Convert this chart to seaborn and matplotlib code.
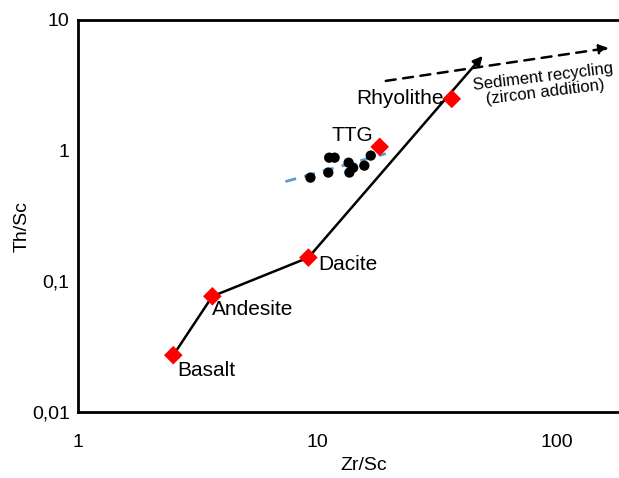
import matplotlib
matplotlib.use("Agg")
import matplotlib.pyplot as plt
import matplotlib.ticker as mticker
import seaborn as sns

# --- data ---
rock_names = ["Basalt", "Andesite", "Dacite", "Rhyolithe", ""]
rock_zr_sc = [2.50, 3.64, 9.17, 36.4, 18.2]
rock_th_sc = [0.0272, 0.0768, 0.152, 2.49, 1.07]

trend_zr_sc = [2.50, 3.64, 9.17]
trend_th_sc = [0.0272, 0.0768, 0.152]
trend_arrow_start = (9.17, 0.152)
trend_arrow_end = (49.0, 5.31)

ttg_zr_sc = [9.35, 11.1, 11.2, 11.8, 13.5, 13.6, 14.1, 15.7, 16.7]
ttg_th_sc = [0.622, 0.680, 0.884, 0.884, 0.809, 0.680, 0.741, 0.768, 0.917]

ttg_fit_zr_sc = [7.35, 19.3]
ttg_fit_th_sc = [0.580, 0.949]

sed_arrow_start = (19.3, 3.42)
sed_arrow_end = (165.0, 6.11)

x_ticks = [1, 10, 100]
x_tick_labels = ["1", "10", "100"]
y_ticks = [0.01, 0.1, 1, 10]
y_tick_labels = ["0,01", "0,1", "1", "10"]

# --- style ---
sns.set_style("white")
plt.rcParams["font.family"] = ["Liberation Sans", "DejaVu Sans"]
plt.rcParams["text.color"] = "black"
plt.rcParams["axes.labelcolor"] = "black"
plt.rcParams["xtick.color"] = "black"
plt.rcParams["ytick.color"] = "black"

fig = plt.figure(figsize=(6.19, 4.78), dpi=100)
ax = fig.add_axes([78 / 619, 1 - 412 / 478, 1 - 78 / 619 + 0.002, (412 - 20) / 478])

ax.set_xscale("log")
ax.set_yscale("log")
ax.set_xlim(1, 184)
ax.set_ylim(0.01, 10)

# trend line
sns.lineplot(x=trend_zr_sc, y=trend_th_sc, ax=ax, color="black", lw=1.8,
             sort=False, estimator=None, zorder=2)
ax.annotate("", xy=trend_arrow_end, xytext=trend_arrow_start,
            arrowprops=dict(arrowstyle="-|>", color="black", lw=1.8,
                            mutation_scale=14, shrinkA=0, shrinkB=0), zorder=2)

# TTG fit (dashed blue)
sns.lineplot(x=ttg_fit_zr_sc, y=ttg_fit_th_sc, ax=ax, color="#5b9bd5", lw=2,
             linestyle=(0, (4, 3)), estimator=None, zorder=3)

# TTG points
sns.scatterplot(x=ttg_zr_sc, y=ttg_th_sc, ax=ax, color="black", s=55,
                edgecolor="none", zorder=4)

# rock diamonds
sns.scatterplot(x=rock_zr_sc, y=rock_th_sc, ax=ax, color="#ff0000", marker="D",
                s=90, edgecolor="none", zorder=5)

# sediment recycling arrow
ax.annotate("", xy=sed_arrow_end, xytext=sed_arrow_start,
            arrowprops=dict(arrowstyle="-|>", color="black", lw=1.8,
                            linestyle=(0, (4, 3)), mutation_scale=14,
                            shrinkA=0, shrinkB=0), zorder=2)

# labels
fs = 15
ax.annotate("Basalt", xy=(rock_zr_sc[0], rock_th_sc[0]), xytext=(3, -4),
            textcoords="offset points", ha="left", va="top", fontsize=fs)
ax.annotate("Andesite", xy=(rock_zr_sc[1], rock_th_sc[1]), xytext=(0, -3),
            textcoords="offset points", ha="left", va="top", fontsize=fs)
ax.annotate("Dacite", xy=(rock_zr_sc[2], rock_th_sc[2]), xytext=(7, -5),
            textcoords="offset points", ha="left", va="center", fontsize=fs)
ax.annotate("Rhyolithe", xy=(rock_zr_sc[3], rock_th_sc[3]), xytext=(-6, 0),
            textcoords="offset points", ha="right", va="center", fontsize=fs)
ax.annotate("TTG", xy=(rock_zr_sc[4], rock_th_sc[4]), xytext=(-20, 8),
            textcoords="offset points", ha="center", va="center", fontsize=fs)
ax.text(0.86, 0.835, "Sediment recycling\n(zircon addition)", transform=ax.transAxes,
        ha="center", va="center", fontsize=12, rotation=7, linespacing=1.1)

# axes formatting
ax.xaxis.set_major_locator(mticker.FixedLocator(x_ticks))
ax.xaxis.set_major_formatter(mticker.FixedFormatter(x_tick_labels))
ax.yaxis.set_major_locator(mticker.FixedLocator(y_ticks))
ax.yaxis.set_major_formatter(mticker.FixedFormatter(y_tick_labels))
ax.xaxis.set_minor_locator(mticker.NullLocator())
ax.yaxis.set_minor_locator(mticker.NullLocator())
ax.tick_params(axis="x", length=0, pad=16, labelsize=14)
ax.tick_params(axis="y", length=0, pad=6, labelsize=14)

for side in ["left", "top", "bottom"]:
    ax.spines[side].set_color("black")
    ax.spines[side].set_linewidth(2)
ax.spines["right"].set_visible(False)

ax.set_xlabel("Zr/Sc", fontsize=14)
ax.set_ylabel("Th/Sc", fontsize=14)
ax.xaxis.set_label_coords(0.527, -0.115)
ax.yaxis.set_label_coords(-0.087, 0.472)

fig.savefig("out.png", dpi=100)
